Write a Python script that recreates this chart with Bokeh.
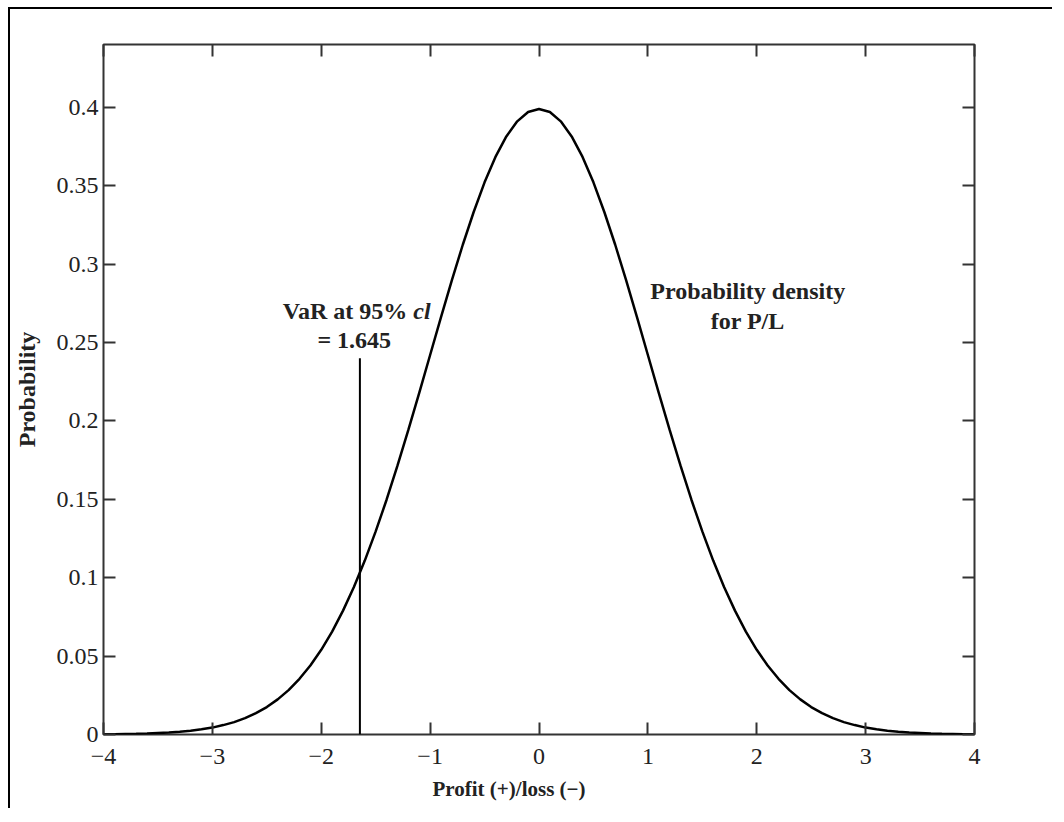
from bokeh.plotting import figure
from bokeh.models import Range1d, LinearAxis, FixedTicker, Title, CustomLabelingPolicy
from bokeh.core.properties import value
from bokeh.embed import file_html
from bokeh.resources import INLINE

# ---- data ----
pl_x = [-4.0, -3.9, -3.8, -3.7, -3.6, -3.5, -3.4, -3.3, -3.2, -3.1,
        -3.0, -2.9, -2.8, -2.7, -2.6, -2.5, -2.4, -2.3, -2.2, -2.1,
        -2.0, -1.9, -1.8, -1.7, -1.6, -1.5, -1.4, -1.3, -1.2, -1.1,
        -1.0, -0.9, -0.8, -0.7, -0.6, -0.5, -0.4, -0.3, -0.2, -0.1,
        0.0,
        0.1, 0.2, 0.3, 0.4, 0.5, 0.6, 0.7, 0.8, 0.9, 1.0,
        1.1, 1.2, 1.3, 1.4, 1.5, 1.6, 1.7, 1.8, 1.9, 2.0,
        2.1, 2.2, 2.3, 2.4, 2.5, 2.6, 2.7, 2.8, 2.9, 3.0,
        3.1, 3.2, 3.3, 3.4, 3.5, 3.6, 3.7, 3.8, 3.9, 4.0]
density = [0.0001, 0.0002, 0.0003, 0.0004, 0.0006, 0.0009, 0.0012, 0.0017, 0.0024, 0.0033,
           0.0044, 0.0060, 0.0079, 0.0104, 0.0136, 0.0175, 0.0224, 0.0283, 0.0355, 0.0440,
           0.0540, 0.0656, 0.0790, 0.0940, 0.1109, 0.1295, 0.1497, 0.1714, 0.1942, 0.2179,
           0.2420, 0.2661, 0.2897, 0.3123, 0.3332, 0.3521, 0.3683, 0.3814, 0.3910, 0.3970,
           0.3989,
           0.3970, 0.3910, 0.3814, 0.3683, 0.3521, 0.3332, 0.3123, 0.2897, 0.2661, 0.2420,
           0.2179, 0.1942, 0.1714, 0.1497, 0.1295, 0.1109, 0.0940, 0.0790, 0.0656, 0.0540,
           0.0440, 0.0355, 0.0283, 0.0224, 0.0175, 0.0136, 0.0104, 0.0079, 0.0060, 0.0044,
           0.0033, 0.0024, 0.0017, 0.0012, 0.0009, 0.0006, 0.0004, 0.0003, 0.0002, 0.0001]
var_x = [-1.645]
var_top = [0.24]
x_ticks = [-4, -3, -2, -1, 0, 1, 2, 3, 4]
x_tick_labels = ["\u22124", "\u22123", "\u22122", "\u22121", "0", "1", "2", "3", "4"]
y_ticks = [0, 0.05, 0.1, 0.15, 0.2, 0.25, 0.3, 0.35, 0.4]
y_tick_labels = ["0", "0.05", "0.1", "0.15", "0.2", "0.25", "0.3", "0.35", "0.4"]

FONT = "Liberation Serif"
INK = "#222222"

p = figure(frame_width=871, frame_height=690,
           x_range=Range1d(-4, 4), y_range=Range1d(0, 0.44),
           output_backend="svg", toolbar_location=None,
           min_border_left=93, min_border_top=35, min_border_right=78, min_border_bottom=70,
           background_fill_color="white", border_fill_color="white")
p.styles = {"margin-left": "8px", "margin-top": "7px",
            "border-left": "2px solid black", "border-top": "2px solid black"}
p.grid.visible = False
p.outline_line_color = "#333333"
p.outline_line_width = 2

def style_axis(ax, ticks, labels, show):
    ax.ticker = FixedTicker(ticks=ticks)
    ax.major_label_overrides = {t: s for t, s in zip(ticks, labels)}
    ax.axis_line_color = None
    ax.major_tick_in = 12
    ax.major_tick_out = 0
    ax.major_tick_line_color = "#333333"
    ax.major_tick_line_width = 2
    ax.minor_tick_line_color = None
    ax.major_label_text_font = FONT
    ax.major_label_text_color = INK
    ax.major_label_text_font_size = "24px"
    if not show:
        ax.major_label_policy = CustomLabelingPolicy(code="return []")
        ax.major_label_standoff = 0
    ax.axis_label_text_font = FONT
    ax.axis_label_text_font_style = "bold"
    ax.axis_label_text_color = INK
    ax.axis_label_text_font_size = "24px"

style_axis(p.xaxis[0], x_ticks, x_tick_labels, True)
style_axis(p.yaxis[0], y_ticks, y_tick_labels, True)
p.xaxis[0].major_label_standoff = 14
p.yaxis[0].major_label_standoff = 5
p.yaxis[0].axis_label = "Probability"
p.yaxis[0].axis_label_standoff = 14

top_ax = LinearAxis()
style_axis(top_ax, x_ticks, x_tick_labels, False)
p.add_layout(top_ax, "above")
right_ax = LinearAxis()
style_axis(right_ax, y_ticks, y_tick_labels, False)
p.add_layout(right_ax, "right")

xlabel = Title(text="Profit (+)/loss (\u2212)", align="left", offset=329,
               text_font=FONT, text_font_style="bold", text_font_size="21px",
               text_color=INK, standoff=16)
p.add_layout(xlabel, "below")

p.line(pl_x, density, line_color="black", line_width=2.5)
p.segment(x0=var_x, y0=[0], x1=var_x, y1=var_top, line_color="black", line_width=2)

common = dict(text_font=value(FONT), text_font_style="bold", text_font_size="24px",
              text_color=INK, text_baseline="middle")
p.text(x=[-1.21], y=[0.270], text=["VaR at 95%"], text_align="right", **common)
p.text(x=[-1.155], y=[0.270], text=["cl"], text_align="left",
       text_font=value(FONT), text_font_style="bold italic", text_font_size="24px",
       text_color=INK, text_baseline="middle")
p.text(x=[-1.697], y=[0.2513], text=["= 1.645"], text_align="center", **common)
p.text(x=[1.917, 1.917], y=[0.2825, 0.264], text=["Probability density", "for P/L"],
       text_align="center", **common)

open("out.html", "w").write(file_html(p, INLINE))
